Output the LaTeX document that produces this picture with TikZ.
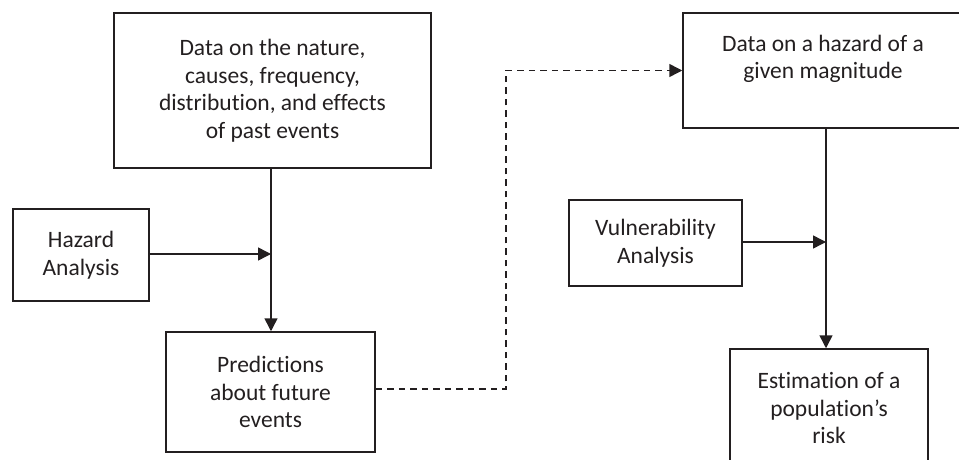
\documentclass[tikz,border=0pt]{standalone}
\usepackage{fontspec}
\setmainfont{Carlito}[Ligatures=NoCommon]
\usetikzlibrary{arrows.meta}
\definecolor{ink}{RGB}{35,31,32}
\begin{document}
\begin{tikzpicture}[x=1pt,y=-1pt,
  box/.style={draw=ink, line width=1.5pt, align=center, text=ink, inner sep=0pt,
    font=\fontsize{23.5}{27.5}\selectfont},
  conn/.style={draw=ink, line width=1.5pt},
  arr/.style={conn, -{Triangle[length=13pt,width=13pt]}},
  dashline/.style={arr, dash pattern=on 6.5pt off 5pt}
]
\useasboundingbox (0,0) rectangle (959,460);
\begin{scope}
\clip (0,0) rectangle (959,460);
\node[box, minimum width=317pt, minimum height=155pt] (d1) at (272.5,90.5)
  {Data on the nature,\\causes, frequency,\\distribution, and effects\\of past events};
\node[box, minimum width=136pt, minimum height=92pt] (haz) at (81,255)
  {Hazard\\Analysis};
\node[box, minimum width=209pt, minimum height=120pt] (pred) at (270.5,392)
  {Predictions\\about future\\events};
\node[box, minimum width=280pt, minimum height=115pt] (d2) at (823,70.5) {};
\node[box, draw=none] (d2t) at (823,59) {Data on a hazard of a\\given magnitude};
\node[box, minimum width=173pt, minimum height=86pt] (vul) at (655.5,243)
  {Vulnerability\\Analysis};
\node[box, minimum width=198pt, minimum height=118pt] (est) at (829,408)
  {Estimation of a\\population’s\\risk};
\end{scope}
\coordinate (j1) at (271,254);
\coordinate (j2) at (826,242);
\coordinate (bend) at (506,389);
\draw[arr] (d1.south -| j1) -- (pred.north -| j1);
\draw[arr] (haz.east |- j1) -- (j1);
\draw[arr] (d2.south -| j2) -- (est.north -| j2);
\draw[arr] (vul.east |- j2) -- (j2);
\draw[dashline] (pred.east |- bend) -- (bend) |- (d2.west);
\end{tikzpicture}
\end{document}
